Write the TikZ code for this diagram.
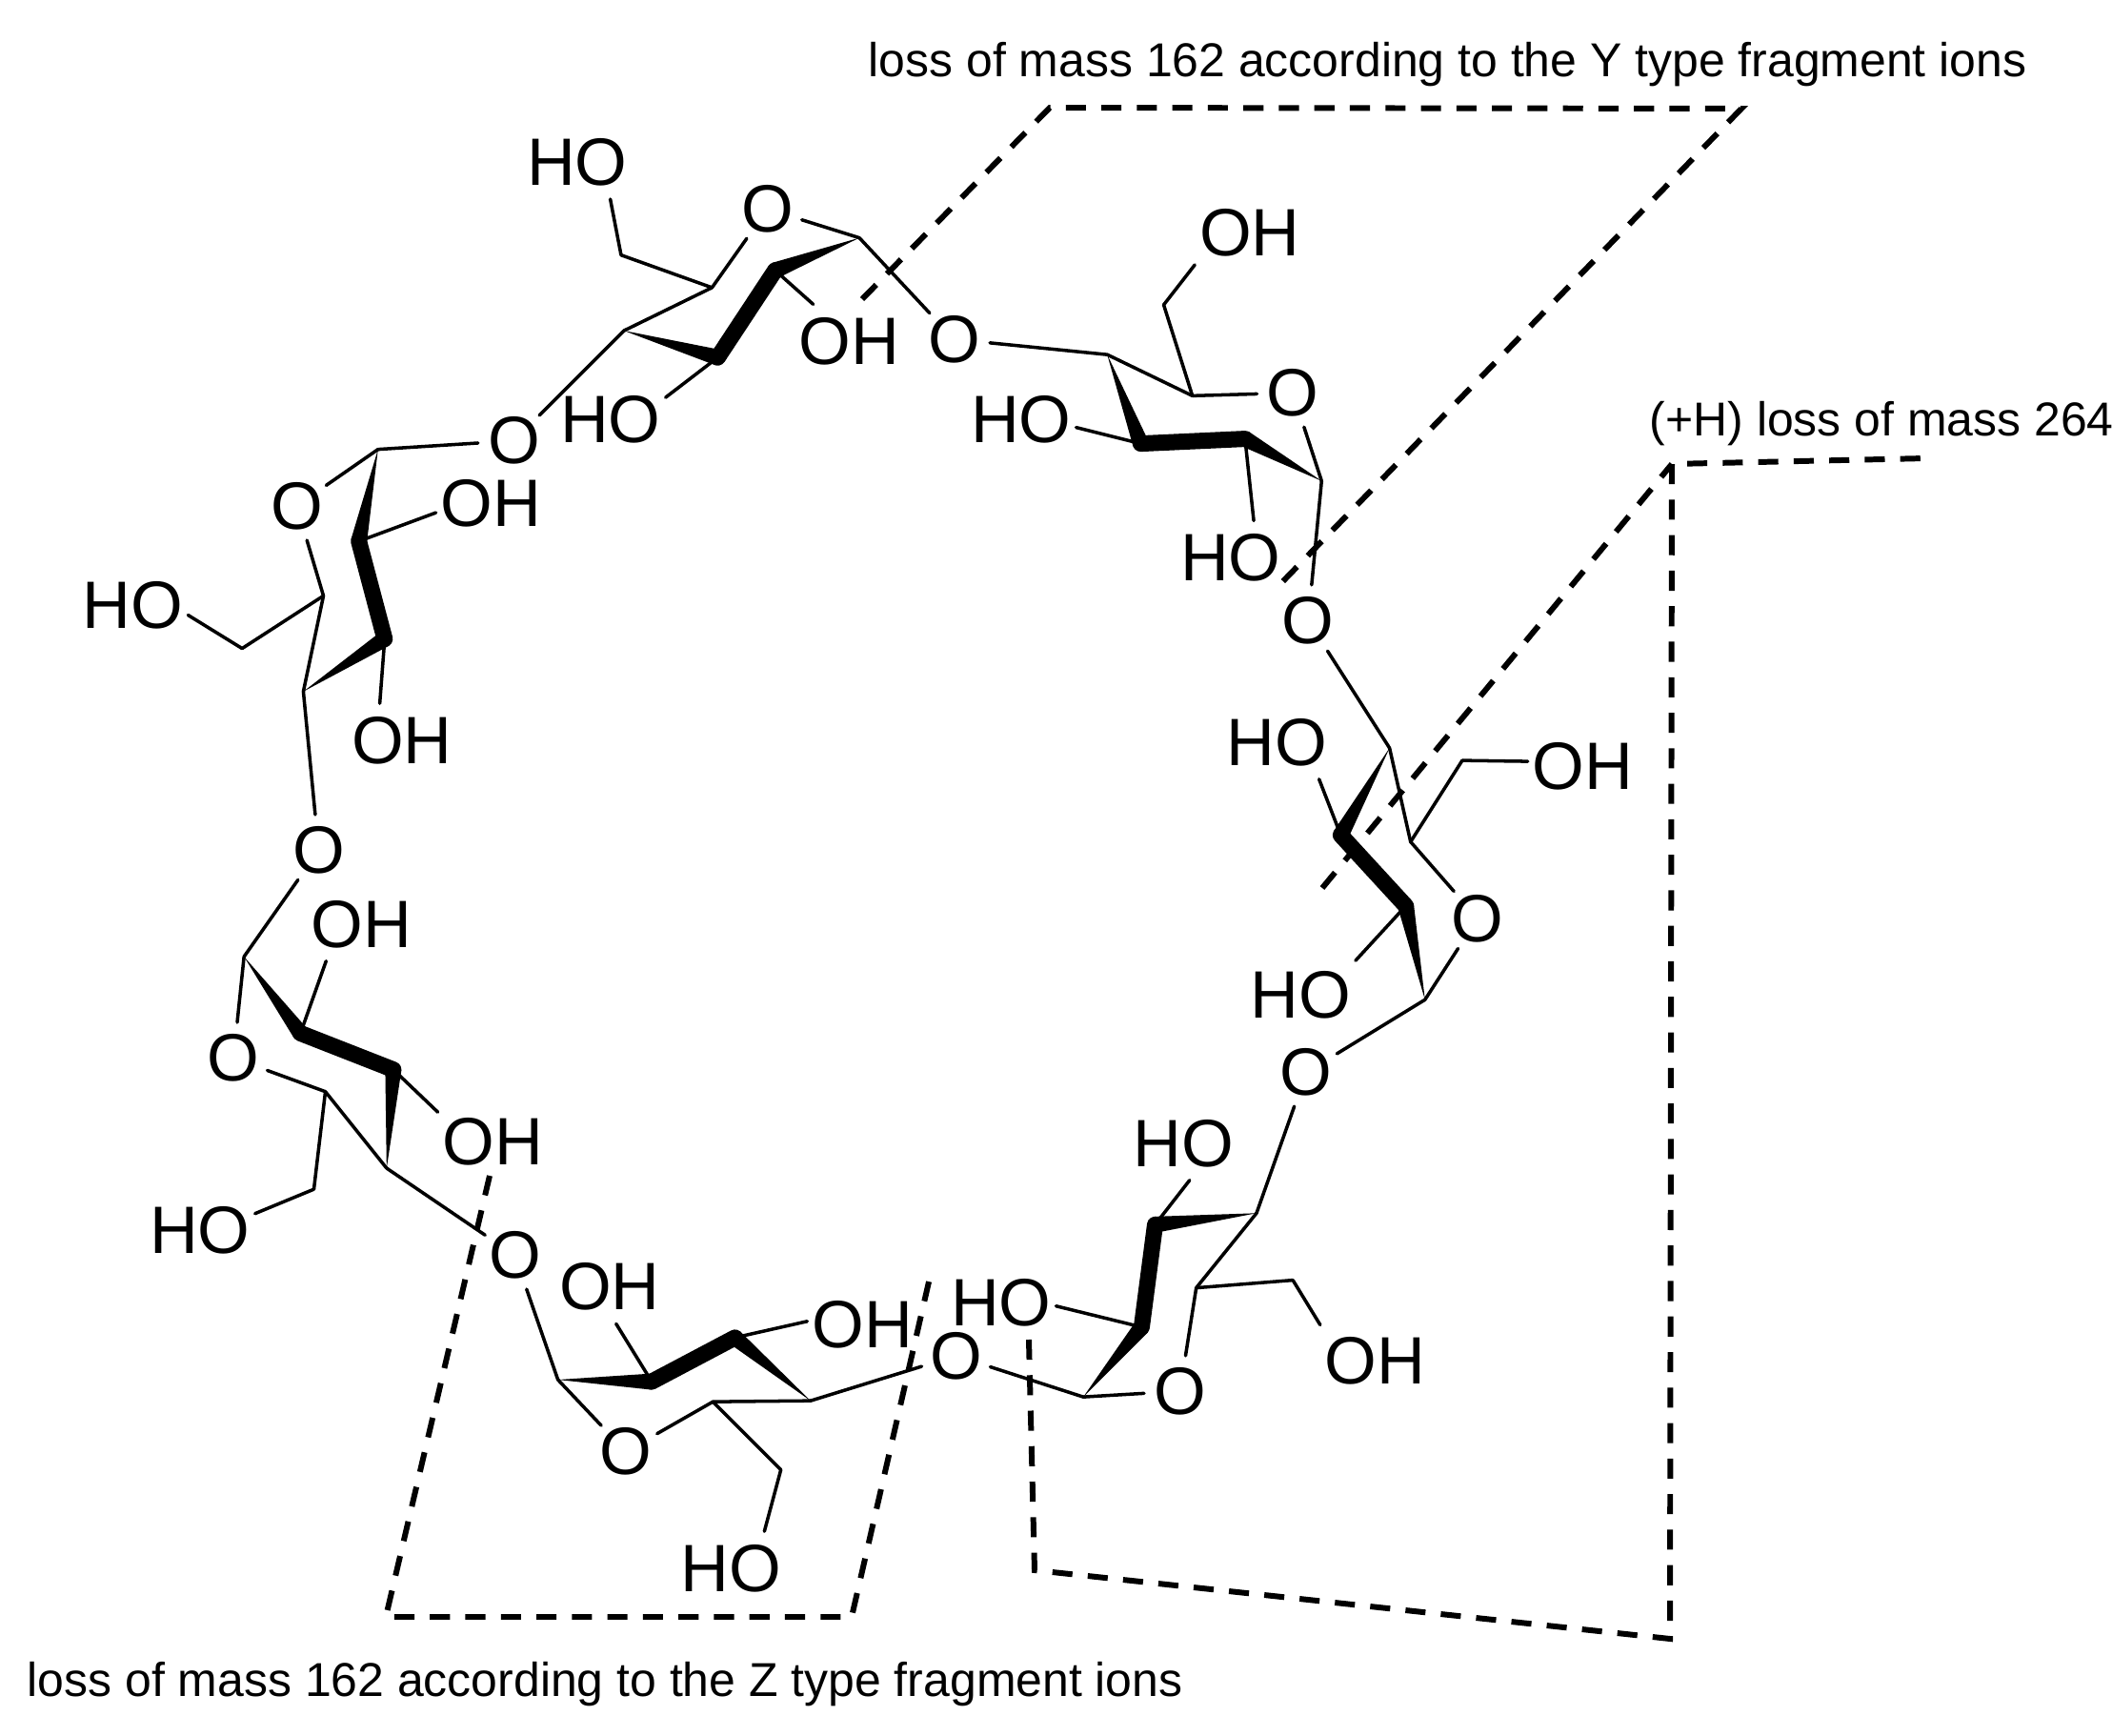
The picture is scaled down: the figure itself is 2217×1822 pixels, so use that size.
\documentclass[tikz,border=0pt]{standalone}
\usepackage{fontspec}
\setmainfont{Liberation Sans}
\usetikzlibrary{calc}
\tikzset{
bond/.style={draw, line width=1pt, line cap=round}, % thin ring and side bonds
thickbond/.style={draw, line width=.17cm, line cap=round}, % front edge of a ring
lossline/.style={draw, line width=1.7pt, dash pattern=on 6pt off 4.6pt, line join=miter}, % cut lines
oxygen/.style={circle, inner sep=0pt, minimum size=.74cm, font=\fontsize{20}{22}\selectfont}, % ring and bridge O
hydroxyl/.style={rectangle, inner sep=0pt, minimum width=1.14cm, minimum height=.76cm, font=\fontsize{20}{22}\selectfont}, % HO, OH
losslabel/.style={anchor=west, inner sep=0pt, font=\fontsize{14.2}{16}\selectfont}, % fragment labels
}

\begin{document}
\begin{tikzpicture}[x=.01cm, y=-.01cm]
	\useasboundingbox (0,0) rectangle (2217,1822);
	\begin{scope}[x=.010046cm, y=-.010046cm, yshift=-.005cm]
	% ring atoms
	\foreach \n/\p in {a1/{898,248},a2/{810,282},a3/{750,373},a4/{652,345},a5/{744,300},a6/{649,266},
		b1/{1157,370},b2/{1192,463},b3/{1301,458},b4/{1381,502},b5/{1246,413},b6/{1216,318},
		c1/{1452,781},c2/{1401,872},c3/{1469,946},c4/{1489,1044},c5/{1474,879},c6/{1528,794},
		d1/{1313,1267},d2/{1207,1279},d3/{1193,1386},d4/{1132,1459},d5/{1250,1345},d6/{1351,1337},
		e1/{847,1463},e2/{768,1397},e3/{681,1443},e4/{583,1441},e5/{745,1464},e6/{816,1535},
		f1/{404,1220},f2/{411,1117},f3/{314,1079},f4/{255,999},f5/{340,1140},f6/{328,1242},
		g1/{395,469},g2/{375,565},g3/{402,667},g4/{317,722},g5/{338,622},g6/{253,677}}
		\coordinate (\n) at (\p);
	% oxygens
	\foreach \n/\p in {oa/{802,218},ob/{1351,410},oc/{1544,959},od/{1233,1453},oe/{654,1516},of/{244,1105},og/{310,528},
		oab/{997,354},obc/{1367,648},ocd/{1365,1120},ode/{999,1416},oef/{538,1311},ofg/{333,888},oga/{537,460}}
		\node[oxygen] (\n) at (\p) {O};
	% hydroxyls
	\node[hydroxyl] (a6o) at (603,169) {HO};
	\node[hydroxyl] (a3o) at (638,438) {HO};
	\node[hydroxyl] (a2o) at (887,356) {OH};
	\node[hydroxyl] (b6o) at (1306,243) {OH};
	\node[hydroxyl] (b2o) at (1067,438) {HO};
	\node[hydroxyl] (b3o) at (1286,582) {HO};
	\node[hydroxyl] (c6o) at (1654,800) {OH};
	\node[hydroxyl] (c2o) at (1334,775) {HO};
	\node[hydroxyl] (c3o) at (1359,1039) {HO};
	\node[hydroxyl] (d6o) at (1437,1421) {OH};
	\node[hydroxyl] (d2o) at (1237,1194) {HO};
	\node[hydroxyl] (d3o) at (1046,1361) {HO};
	\node[hydroxyl] (e6o) at (764,1638) {HO};
	\node[hydroxyl] (e2o) at (901,1383) {OH};
	\node[hydroxyl] (e3o) at (637,1344) {OH};
	\node[hydroxyl] (f6o) at (209,1285) {HO};
	\node[hydroxyl] (f2o) at (515,1192) {OH};
	\node[hydroxyl] (f3o) at (378,965) {OH};
	\node[hydroxyl] (g6o) at (139,632) {HO};
	\node[hydroxyl] (g2o) at (513,525) {OH};
	\node[hydroxyl] (g3o) at (420,773) {OH};
	\end{scope}
	% wedges, narrow end first
	\foreach \a/\b in {a1/a2,a4/a3,b1/b2,b4/b3,c1/c2,c4/c3,d1/d2,d4/d3,e1/e2,e4/e3,f1/f2,f4/f3,g1/g2,g4/g3}
		\fill (\a) -- ($(\b)!.085cm!90:(\a)$) -- ($(\b)!.085cm!-90:(\a)$) -- cycle;
	\foreach \a/\b in {a2/a3,b2/b3,c2/c3,d2/d3,e2/e3,f2/f3,g2/g3}
		\draw[thickbond] (\a) -- (\b);
	% thin bonds
	\foreach \a/\b in {a1/oa,a5/oa,a4/a5,a5/a6,a6/a6o.-48,a3/a3o.22,a2/a2o.134,a1/oab,a4/oga,
		b1/b5,b5/ob,b4/ob,b5/b6,b6/b6o.210,b2/b2o.-8,b3/b3o.58,oab/b1,b4/obc,
		c1/c5,c5/oc,c4/oc,c5/c6,c6/c6o.175,c2/c2o.-41,c3/c3o.32,obc/c1,c4/ocd,
		d1/d5,d5/od,d4/od,d5/d6,d6/d6o.147,d2/d2o.-81,d3/d3o.-3,ocd/d1,d4/ode,
		e1/e5,e5/oe,e4/oe,e5/e6,e6/e6o.48,e2/e2o.177,e3/e3o.-80,ode/e1,e4/oef,
		f1/f5,f5/of,f4/of,f5/f6,f6/f6o.17,f2/f2o.152,f3/f3o.226,oef/f1,f4/ofg,
		g1/og,g5/og,g4/g5,g5/g6,g6/g6o.-10,g2/g2o.190,g3/g3o.121,oga/g1,g4/ofg}
		\draw[bond] (\a) -- (\b);
	% cut lines
	\coordinate (ya) at (905,314);
	\coordinate (yb) at (1102,113);
	\coordinate (yc) at (1828,114);
	\coordinate (yd) at (1342,615);
	\coordinate (za) at (514,1234);
	\coordinate (zb) at (405,1697);
	\coordinate (zc) at (894,1697);
	\coordinate (zd) at (976,1341);
	\coordinate (ha) at (1080,1406);
	\coordinate (hb) at (1086,1648);
	\coordinate (hc) at (1753,1720);
	\coordinate (hd) at (1755,487);
	\coordinate (he) at (2022,481);
	\coordinate (hf) at (1388,932);
	\draw[lossline] (ya) -- (yb) -- (yc) -- (yd);
	\draw[lossline] (za) -- (zb) -- (zc) -- (zd);
	\draw[lossline] (ha) -- (hb) -- (hc) -- (hd) -- (he);
	\draw[lossline] (hf) -- (hd);
	\node[losslabel] (ylabel) at (911,68) {loss of mass 162 according to the Y type fragment ions};
	\node[losslabel] (hlabel) at (1731,445) {(+H) loss of mass 264};
	\node[losslabel] (zlabel) at (28,1768) {loss of mass 162 according to the Z type fragment ions};
\end{tikzpicture}
\end{document}
